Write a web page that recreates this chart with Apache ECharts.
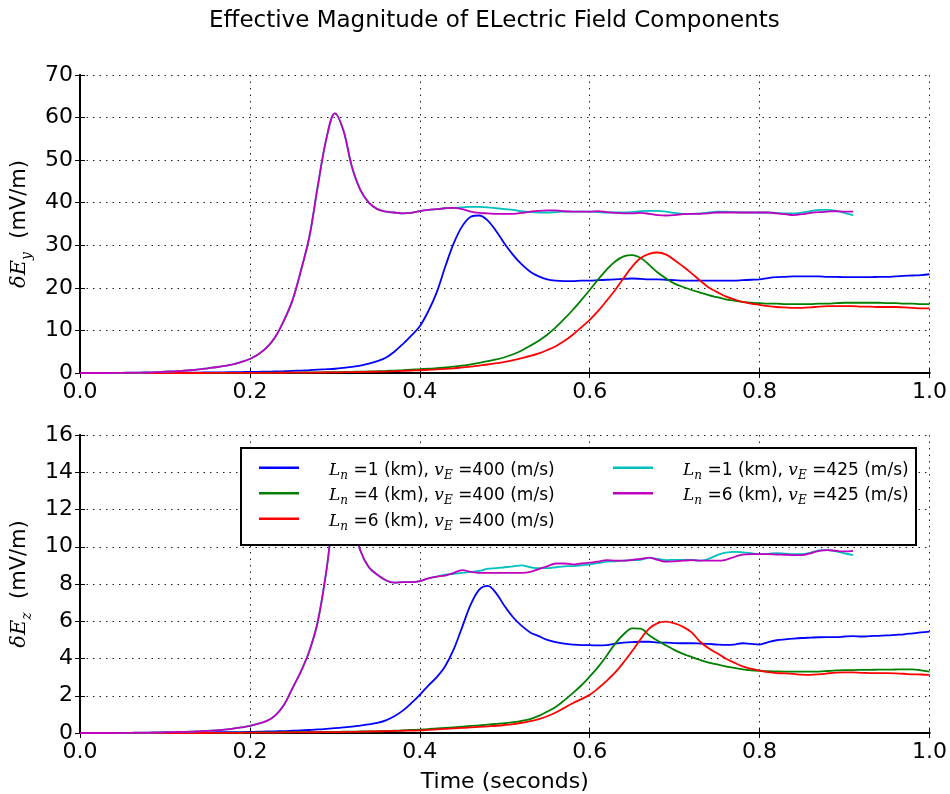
<!DOCTYPE html>
<html><head><meta charset="utf-8">
<script src="https://cdn.jsdelivr.net/npm/echarts@6/dist/echarts.min.js"></script>
<style>html,body{margin:0;padding:0;background:#fff}#c{width:950px;height:794px}</style>
</head><body><div id="c"></div>
<script>
// time axis (seconds)
const time = [
0.00,0.01,0.02,0.03,0.04,0.05,0.06,0.07,0.08,0.09,
0.10,0.11,0.12,0.13,0.14,0.15,0.16,0.17,0.18,0.19,
0.20,0.21,0.22,0.23,0.24,0.25,0.26,0.27,0.28,0.29,
0.30,0.31,0.32,0.33,0.34,0.35,0.36,0.37,0.38,0.39,
0.40,0.41,0.42,0.43,0.44,0.45,0.46,0.47,0.48,0.49,
0.50,0.51,0.52,0.53,0.54,0.55,0.56,0.57,0.58,0.59,
0.60,0.61,0.62,0.63,0.64,0.65,0.66,0.67,0.68,0.69,
0.70,0.71,0.72,0.73,0.74,0.75,0.76,0.77,0.78,0.79,
0.80,0.81,0.82,0.83,0.84,0.85,0.86,0.87,0.88,0.89,
0.90,0.91,0.92,0.93,0.94,0.95,0.96,0.97,0.98,0.99,
1.00];

// legend parameters
const Ln = [1, 4, 6, 1, 6];
const vE = [400, 400, 400, 425, 425];
const colors = ['#0000ff', '#008000', '#ff0000', '#00bfbf', '#bf00bf'];

// delta E_y (mV/m)
const Ey_1_400 = [
0,0,0,0,0,0.01,0.02,0.03,0.04,0.05,
0.06,0.07,0.08,0.1,0.11,0.13,0.15,0.17,0.2,0.22,
0.25,0.28,0.32,0.37,0.42,0.5,0.58,0.68,0.8,0.9,
1.0,1.2,1.45,1.75,2.2,2.8,3.6,5.0,6.8,8.8,
11,14.5,19,25,30.5,34.5,36.7,37.0,35.8,33.3,
30.3,27.7,25.5,23.8,22.7,22.0,21.7,21.6,21.6,21.7,
21.7,21.8,21.9,22.0,22.1,22.2,22.1,22.0,22.0,21.9,
21.8,21.7,21.7,21.7,21.7,21.7,21.7,21.7,21.8,21.9,
22.0,22.3,22.5,22.6,22.7,22.7,22.7,22.7,22.6,22.6,
22.5,22.5,22.5,22.5,22.6,22.6,22.7,22.8,22.9,23.0,
23.2];
const Ey_4_400 = [
0,0,0,0,0,0,0,0,0,0,
0,0,0.01,0.01,0.01,0.01,0.02,0.02,0.03,0.03,
0.04,0.05,0.06,0.07,0.08,0.09,0.11,0.13,0.15,0.18,
0.21,0.24,0.28,0.32,0.37,0.43,0.5,0.58,0.67,0.77,
0.88,1.0,1.12,1.3,1.5,1.75,2.05,2.4,2.8,3.2,
3.7,4.4,5.3,6.4,7.6,9.0,10.7,12.7,14.8,17.1,
19.5,22.0,24.3,26.2,27.4,27.7,27.0,25.4,23.6,22.2,
21.0,20.2,19.5,18.9,18.3,17.8,17.3,17.0,16.7,16.5,
16.4,16.3,16.3,16.2,16.2,16.2,16.2,16.3,16.3,16.4,
16.5,16.5,16.5,16.5,16.5,16.4,16.4,16.3,16.3,16.2,
16.2];
const Ey_6_400 = [
0,0,0,0,0,0,0,0,0,0,
0,0,0,0,0,0.01,0.01,0.01,0.02,0.02,
0.03,0.03,0.04,0.05,0.06,0.07,0.08,0.09,0.11,0.13,
0.15,0.17,0.2,0.23,0.27,0.31,0.36,0.42,0.49,0.56,
0.65,0.75,0.85,0.97,1.1,1.3,1.5,1.75,2.0,2.3,
2.6,3.0,3.5,4.0,4.6,5.4,6.3,7.5,9.0,10.7,
12.5,14.6,17.0,19.5,22.3,25.0,27.0,28.0,28.3,27.8,
26.5,25.0,23.4,21.7,20.1,19.0,18.0,17.3,16.7,16.3,
16.0,15.7,15.5,15.4,15.3,15.3,15.4,15.6,15.7,15.7,
15.7,15.7,15.6,15.6,15.5,15.5,15.5,15.4,15.3,15.2,
15.2];
const Ey_1_425 = [
0,0,0,0,0.02,0.05,0.08,0.1,0.15,0.2,
0.3,0.4,0.5,0.65,0.85,1.1,1.35,1.65,2.0,2.6,
3.3,4.4,6.0,8.5,12.3,17,24,32,44,55,
61,57,48.5,43,40,38.5,37.9,37.7,37.5,37.6,
38.0,38.3,38.5,38.7,38.8,38.9,39.0,39.0,38.9,38.7,
38.5,38.3,38.0,37.8,37.7,37.7,37.8,37.9,37.9,37.9,
37.9,37.8,37.7,37.7,37.7,37.8,38.0,38.1,38.1,37.9,
37.6,37.4,37.4,37.5,37.7,37.9,37.9,37.8,37.7,37.7,
37.7,37.7,37.6,37.5,37.5,37.7,38.0,38.3,38.3,38.1,
37.6,37.1];
const Ey_6_425 = [
0,0,0,0,0.02,0.05,0.08,0.1,0.15,0.2,
0.3,0.4,0.5,0.65,0.85,1.1,1.35,1.65,2.0,2.6,
3.3,4.4,6.0,8.5,12.3,17,24,32,44,55,
61,57,48.5,43,40,38.5,37.9,37.7,37.5,37.6,
38.0,38.3,38.5,38.7,38.8,38.5,37.9,37.6,37.5,37.4,
37.4,37.4,37.6,37.9,38.1,38.2,38.2,38.0,37.9,37.9,
37.9,38.0,37.8,37.6,37.5,37.5,37.6,37.4,37.1,37.0,
37.1,37.3,37.4,37.4,37.5,37.7,37.7,37.7,37.7,37.7,
37.7,37.7,37.5,37.3,37.1,37.3,37.6,37.8,37.9,38.0,
37.9,37.9];

// delta E_z (mV/m)
const Ez_1_400 = [
0,0,0,0,0,0,0,0.01,0.01,0.01,
0.02,0.02,0.02,0.03,0.03,0.03,0.04,0.04,0.05,0.05,
0.06,0.07,0.08,0.09,0.1,0.12,0.14,0.16,0.19,0.22,
0.26,0.3,0.34,0.4,0.46,0.54,0.68,0.9,1.2,1.6,
2.05,2.55,3.0,3.6,4.5,5.7,6.9,7.7,7.9,7.5,
6.8,6.2,5.75,5.4,5.2,5.0,4.88,4.8,4.75,4.72,
4.72,4.7,4.72,4.8,4.85,4.88,4.9,4.9,4.85,4.85,
4.83,4.82,4.82,4.8,4.78,4.75,4.73,4.75,4.82,4.78,
4.75,4.88,4.98,5.03,5.07,5.1,5.12,5.14,5.15,5.15,
5.18,5.2,5.18,5.2,5.22,5.24,5.27,5.3,5.35,5.4,
5.44];
const Ez_4_400 = [
0,0,0,0,0,0,0,0,0,0,
0,0,0,0,0.01,0.01,0.01,0.01,0.02,0.02,
0.02,0.03,0.03,0.03,0.04,0.04,0.05,0.05,0.05,0.06,
0.06,0.07,0.07,0.08,0.08,0.09,0.1,0.12,0.14,0.16,
0.18,0.21,0.25,0.27,0.3,0.34,0.38,0.41,0.45,0.49,
0.53,0.58,0.65,0.75,0.92,1.15,1.4,1.75,2.14,2.55,
3.03,3.55,4.15,4.8,5.3,5.62,5.6,5.25,4.95,4.7,
4.45,4.25,4.08,3.92,3.78,3.68,3.58,3.5,3.42,3.37,
3.34,3.32,3.31,3.3,3.3,3.3,3.29,3.3,3.33,3.36,
3.38,3.38,3.39,3.39,3.4,3.4,3.41,3.42,3.42,3.36,
3.3];
const Ez_6_400 = [
0,0,0,0,0,0,0,0,0,0,
0,0,0,0,0,0,0.01,0.01,0.01,0.01,
0.02,0.02,0.02,0.02,0.03,0.03,0.03,0.04,0.04,0.05,
0.05,0.05,0.06,0.07,0.08,0.09,0.1,0.11,0.12,0.13,
0.14,0.17,0.2,0.22,0.25,0.27,0.3,0.33,0.36,0.39,
0.43,0.48,0.55,0.64,0.75,0.9,1.1,1.35,1.6,1.82,
2.05,2.4,2.8,3.25,3.8,4.4,5.05,5.6,5.9,5.98,
5.88,5.7,5.4,4.9,4.55,4.28,4.0,3.78,3.58,3.45,
3.35,3.27,3.22,3.2,3.17,3.13,3.12,3.15,3.2,3.24,
3.25,3.25,3.23,3.22,3.21,3.21,3.2,3.18,3.15,3.14,
3.12];
const Ez_1_425 = [
0,0,0,0,0,0.01,0.01,0.02,0.02,0.03,
0.04,0.05,0.06,0.07,0.09,0.11,0.14,0.18,0.23,0.3,
0.38,0.5,0.65,0.95,1.5,2.4,3.3,4.4,6.0,8.7,
12.0,13.0,11.5,9.8,8.9,8.5,8.2,8.07,8.1,8.1,
8.15,8.3,8.4,8.5,8.55,8.6,8.65,8.7,8.82,8.85,
8.9,8.95,9.0,8.9,8.85,8.85,8.9,8.95,8.96,9.0,
9.05,9.12,9.2,9.22,9.25,9.28,9.3,9.4,9.35,9.28,
9.3,9.3,9.3,9.25,9.35,9.55,9.68,9.73,9.7,9.65,
9.6,9.62,9.66,9.63,9.6,9.6,9.68,9.8,9.82,9.75,
9.65,9.55];
const Ez_6_425 = [
0,0,0,0,0,0.01,0.01,0.02,0.02,0.03,
0.04,0.05,0.06,0.07,0.09,0.11,0.14,0.18,0.23,0.3,
0.38,0.5,0.65,0.95,1.5,2.4,3.3,4.4,6.0,8.7,
12.0,13.0,11.5,9.8,8.9,8.5,8.2,8.07,8.1,8.1,
8.15,8.3,8.4,8.45,8.6,8.75,8.65,8.6,8.6,8.6,
8.6,8.6,8.6,8.65,8.8,8.95,9.1,9.1,9.05,9.1,
9.15,9.2,9.28,9.25,9.25,9.3,9.35,9.42,9.3,9.2,
9.22,9.25,9.28,9.25,9.25,9.25,9.3,9.45,9.58,9.6,
9.6,9.6,9.58,9.57,9.55,9.55,9.65,9.78,9.82,9.78,
9.75,9.78];

// axis ticks
const xTicks = {min: 0, max: 1, interval: 0.2};
const yTopTicks = {min: 0, max: 70, interval: 10};
const yBotTicks = {min: 0, max: 16, interval: 2};

const EyData = [Ey_1_400, Ey_4_400, Ey_6_400, Ey_1_425, Ey_6_425];
const EzData = [Ez_1_400, Ez_4_400, Ez_6_400, Ez_1_425, Ez_6_425];

const names = Ln.map((l, i) => 'L' + l + 'v' + vE[i]);
const pairs = arr => arr.map((v, i) => [time[i], v]);

const SANS = 'DejaVu Sans';
const SERIF = 'DejaVu Serif';
const FS = 22;

const rich = {
  gap: {width: 25, fontSize: 17, lineHeight: 22},
  it: {fontFamily: SERIF, fontStyle: 'italic', fontSize: 17, lineHeight: 22, color: '#000'},
  sub: {fontFamily: SERIF, fontStyle: 'italic', fontSize: 12, lineHeight: 12, verticalAlign: 'bottom', color: '#000'},
  tx: {fontFamily: SANS, fontSize: 17, lineHeight: 22, color: '#000'}
};
const legendFmt = name => {
  const i = names.indexOf(name);
  return '{gap|}{it|L}{sub|n}{tx| =' + Ln[i] + ' (km), }{it|v}{sub|E}{tx| =' + vE[i] + ' (m/s)}';
};

const axisLineStyle = {show: true, lineStyle: {color: '#000', width: 2}};
const tickStyle = {show: true, inside: true, length: 5, lineStyle: {color: '#000', width: 1}};
const gridLine = {show: true, lineStyle: {color: '#222', width: 1, type: [1.5, 5]}};

function xAxisPair(gi, withName) {
  return [
    Object.assign({
      gridIndex: gi, type: 'value',
      axisLine: axisLineStyle, axisTick: tickStyle, splitLine: gridLine,
      axisLabel: {fontSize: FS, fontFamily: SANS, color: '#000', margin: 8, formatter: v => v.toFixed(1)},
      name: withName ? 'Time (seconds)' : '', nameLocation: 'middle', nameGap: 38,
      nameTextStyle: {fontSize: FS, fontFamily: SANS, color: '#000'}
    }, xTicks),
    Object.assign({
      gridIndex: gi, type: 'value', position: 'top',
      axisLine: axisLineStyle, axisTick: tickStyle, splitLine: {show: false}, axisLabel: {show: false}
    }, xTicks)
  ];
}
function yAxisPair(gi, ticks, sub) {
  return [
    Object.assign({
      gridIndex: gi, type: 'value', position: 'left',
      axisLine: axisLineStyle, axisTick: tickStyle, splitLine: gridLine,
      axisLabel: {fontSize: FS, fontFamily: SANS, color: '#000', margin: 7},
      name: '{d|δE}{s|' + sub + '}{t|  (mV/m)}', nameLocation: 'middle', nameGap: 46, nameRotate: 90,
      nameTextStyle: {
        rich: {
          d: {fontFamily: SERIF, fontStyle: 'italic', fontSize: 21, lineHeight: 28, color: '#000'},
          s: {fontFamily: SERIF, fontStyle: 'italic', fontSize: 14, lineHeight: 14, verticalAlign: 'bottom', color: '#000'},
          t: {fontFamily: SANS, fontSize: 21, lineHeight: 28, color: '#000'}
        }
      }
    }, ticks),
    Object.assign({
      gridIndex: gi, type: 'value', position: 'right',
      axisLine: axisLineStyle, axisTick: tickStyle, splitLine: {show: false}, axisLabel: {show: false}
    }, ticks)
  ];
}

const series = [];
EyData.forEach((arr, i) => series.push({
  name: names[i], type: 'line', xAxisIndex: 0, yAxisIndex: 0, data: pairs(arr),
  showSymbol: false, symbol: 'none', smooth: 0.35, z: 2, animation: false,
  lineStyle: {color: colors[i], width: 1.8}, itemStyle: {color: colors[i]}
}));
EzData.forEach((arr, i) => series.push({
  name: names[i], type: 'line', xAxisIndex: 2, yAxisIndex: 2, data: pairs(arr),
  showSymbol: false, symbol: 'none', smooth: 0.35, z: 2, animation: false,
  lineStyle: {color: colors[i], width: 1.8}, itemStyle: {color: colors[i]}
}));

const legendBase = {
  orient: 'vertical', icon: 'path://M0,0H40V2.4H0Z M0,8H0.1', itemWidth: 40, itemHeight: 8, itemGap: 6,
  selectedMode: false, z: 20, formatter: legendFmt, padding: 0,
  textStyle: {fontSize: 17, fontFamily: SANS, color: '#000', rich: rich}
};

const chart = echarts.init(document.getElementById('c'), null, {renderer: 'canvas'});
chart.setOption({
  animation: false,
  backgroundColor: '#fff',
  title: {
    text: 'Effective Magnitude of ELectric Field Components',
    left: 204, top: 5,
    textStyle: {fontSize: 23, fontWeight: 'normal', fontFamily: SANS, color: '#000'}
  },
  grid: [
    {left: 80, top: 75, width: 850, height: 298},
    {left: 80, top: 435, width: 850, height: 298}
  ],
  xAxis: [...xAxisPair(0, false), ...xAxisPair(1, true)],
  yAxis: [...yAxisPair(0, yTopTicks, 'y'), ...yAxisPair(1, yBotTicks, 'z')],
  legend: [
    Object.assign({left: 259, top: 462, data: names.slice(0, 3)}, legendBase),
    Object.assign({left: 613, top: 462, data: names.slice(3)}, legendBase)
  ],
  graphic: [{
    type: 'rect', z: 10,
    shape: {x: 241, y: 448, width: 675, height: 97},
    style: {fill: '#fff', stroke: '#000', lineWidth: 2}
  }],
  series: series
});
</script>
</body></html>
